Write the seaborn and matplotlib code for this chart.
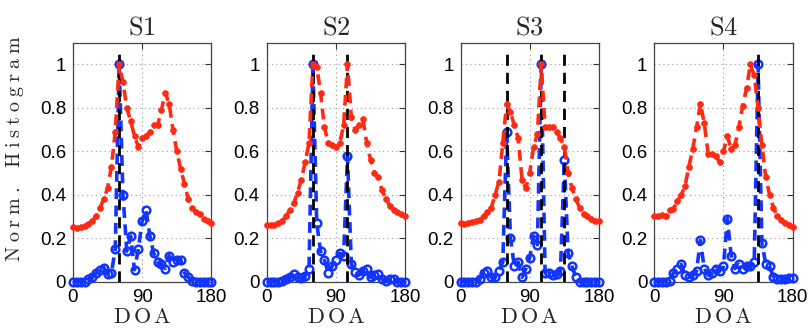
import numpy as np
import pandas as pd
import seaborn as sns
import matplotlib.pyplot as plt

# DOA grid (degrees) and the four scenarios
doa = list(range(0, 181, 5))
titles = ['S1', 'S2', 'S3', 'S4']

# red: dash-dot curve with dots, blue: dashed curve with open circles
s1_red = [0.25, 0.245, 0.25, 0.255, 0.265, 0.28, 0.30, 0.34, 0.38, 0.43, 0.53, 0.69,
          1.0, 0.92, 0.80, 0.74, 0.67, 0.62, 0.66, 0.67, 0.69, 0.72, 0.72, 0.79, 0.87,
          0.82, 0.70, 0.60, 0.52, 0.45, 0.38, 0.34, 0.32, 0.31, 0.29, 0.28, 0.27]
s1_blue = [0, 0, 0, 0, 0.01, 0.02, 0.04, 0.055, 0.065, 0.035, 0.04, 0.15,
           1.0, 0.40, 0.14, 0.21, 0.055, 0.15, 0.28, 0.33, 0.21, 0.13, 0.09, 0.08, 0.06,
           0.12, 0.09, 0.10, 0.10, 0.04, 0.02, 0.005, 0, 0, 0, 0, 0]

s2_red = [0.26, 0.26, 0.26, 0.27, 0.28, 0.30, 0.33, 0.36, 0.41, 0.47, 0.55, 0.64,
          1.0, 0.99, 0.87, 0.71, 0.64, 0.63, 0.62, 0.64, 0.72, 1.0, 0.76, 0.70, 0.72,
          0.75, 0.64, 0.56, 0.50, 0.48, 0.42, 0.38, 0.35, 0.33, 0.32, 0.31, 0.30]
s2_blue = [0, 0, 0, 0, 0.005, 0.01, 0.02, 0.035, 0.02, 0.015, 0.025, 0.06,
           1.0, 0.27, 0.14, 0.10, 0.04, 0.07, 0.10, 0.13, 0.12, 0.58, 0.08, 0.045, 0.03,
           0.05, 0.06, 0.02, 0.03, 0.035, 0.01, 0.005, 0.01, 0.01, 0, 0, 0]

s3_red = [0.27, 0.265, 0.27, 0.275, 0.28, 0.285, 0.30, 0.32, 0.34, 0.40, 0.46, 0.64,
          0.82, 0.78, 0.72, 0.66, 0.47, 0.43, 0.50, 0.62, 0.68, 1.0, 0.71, 0.71, 0.71,
          0.69, 0.66, 0.62, 0.50, 0.43, 0.38, 0.34, 0.31, 0.30, 0.29, 0.28, 0.28]
s3_blue = [0, 0, 0, 0, 0, 0.01, 0.04, 0.05, 0.02, 0.02, 0.05, 0.09,
           0.69, 0.20, 0.07, 0.09, 0.02, 0.06, 0.11, 0.21, 0.17, 1.0, 0.04, 0.04, 0.03,
           0.035, 0.05, 0.56, 0.13, 0.07, 0.02, 0, 0, 0, 0, 0, 0]

s4_red = [0.30, 0.30, 0.305, 0.30, 0.33, 0.335, 0.37, 0.40, 0.44, 0.53, 0.61, 0.71,
          0.82, 0.73, 0.59, 0.59, 0.58, 0.55, 0.60, 0.67, 0.61, 0.63, 0.71, 0.81, 0.89,
          1.0, 0.95, 0.80, 0.63, 0.48, 0.40, 0.34, 0.30, 0.285, 0.27, 0.26, 0.25]
s4_blue = [0, 0, 0, 0, 0.005, 0.04, 0.06, 0.08, 0.03, 0.02, 0.03, 0.05,
           0.19, 0.06, 0.03, 0.04, 0.06, 0.05, 0.07, 0.29, 0.12, 0.06, 0.08, 0.06, 0.07,
           0.07, 0.09, 1.0, 0.18, 0.08, 0.07, 0.02, 0.01, 0.01, 0.01, 0.015, 0.015]

# true source directions (black dashed lines)
s1_true = [60]
s2_true = [60, 105]
s3_true = [60, 105, 135]
s4_true = [135]

red_curves = [s1_red, s2_red, s3_red, s4_red]
blue_curves = [s1_blue, s2_blue, s3_blue, s4_blue]
true_doas = [s1_true, s2_true, s3_true, s4_true]

RED = '#ff2a14'
BLUE = '#1234ff'

sns.set_style('white')
plt.rcParams['font.family'] = ['Liberation Sans', 'DejaVu Sans']
plt.rcParams['mathtext.fontset'] = 'cm'


def spaced(text, gap):
    # serif label with extra letter spacing, as in the original
    parts = [r'\ ' if ch == ' ' else ch for ch in text]
    return r'$\mathrm{' + gap.join(parts) + '}$'


fig, axes = plt.subplots(1, 4, figsize=(8.11, 3.29), dpi=100)
fig.subplots_adjust(left=0.09, right=0.9774, bottom=0.144, top=0.870, wspace=0.4)

for ax, title, red, blue, marks in zip(axes, titles, red_curves, blue_curves, true_doas):
    df = pd.DataFrame({'DOA': doa, 'red': red, 'blue': blue})

    sns.lineplot(data=df, x='DOA', y='blue', ax=ax, errorbar=None, color=BLUE,
                 linewidth=2.6, linestyle=(0, (3, 1.8)), marker='o', markersize=5.5,
                 markerfacecolor='none', markeredgecolor=BLUE, markeredgewidth=1.8,
                 clip_on=False, zorder=3)
    ax.vlines(marks, 0, 1.055, colors='black', linestyles=(0, (4, 2.5)),
              linewidth=2, zorder=4)
    sns.lineplot(data=df, x='DOA', y='red', ax=ax, errorbar=None, color=RED,
                 linewidth=2.6, linestyle=(0, (3, 1.8)), marker='o', markersize=4.2,
                 markerfacecolor=RED, markeredgecolor=RED, markeredgewidth=0.5,
                 clip_on=False, zorder=5)

    ax.set_xlim(0, 180)
    ax.set_ylim(0, 1.1)
    ax.set_xticks([0, 90, 180])
    ax.set_yticks([0, 0.2, 0.4, 0.6, 0.8, 1.0])
    ax.set_yticklabels(['0', '0.2', '0.4', '0.6', '0.8', '1'])
    ax.tick_params(direction='in', top=True, right=True, length=4, width=0.8,
                   labelsize=13.5, pad=5, colors='#333333', labelcolor='black')
    ax.grid(True, linestyle=(0, (1, 3)), color='#999999', linewidth=0.8)
    for sp in ax.spines.values():
        sp.set_color('#444444')
        sp.set_linewidth(0.9)

    ax.set_title(r'$\mathrm{' + title + '}$', fontsize=19, pad=6)
    ax.set_xlabel(spaced('DOA', r'\,'), fontsize=16, labelpad=1)
    ax.set_ylabel('')

axes[0].set_ylabel(spaced('Norm. Histogram', r'\;'), fontsize=14.5)
axes[0].yaxis.set_label_coords(-0.34, 0.555)

fig.savefig('out.png', dpi=100)
